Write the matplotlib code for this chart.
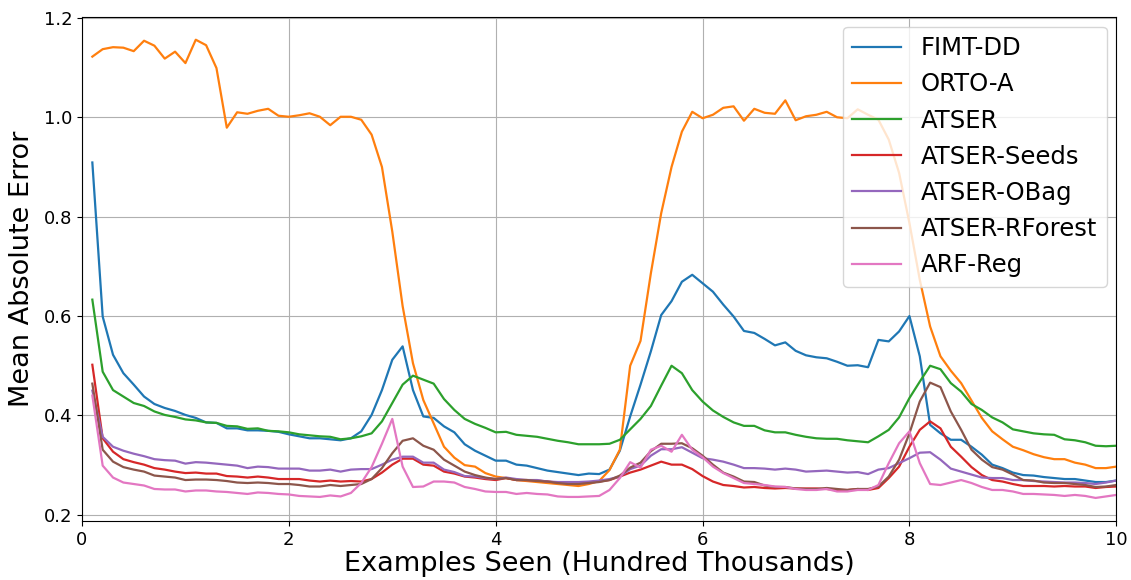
import numpy as np
import matplotlib.pyplot as plt

# x positions: every 10,000 examples, in hundred thousands
x = np.arange(1, 101) / 10.0

fimt_dd = [0.909, 0.599, 0.522, 0.485, 0.462, 0.438, 0.423, 0.415, 0.409, 0.401,
           0.395, 0.386, 0.385, 0.374, 0.374, 0.370, 0.370, 0.369, 0.367, 0.362,
           0.358, 0.354, 0.354, 0.352, 0.350, 0.354, 0.368, 0.401, 0.451, 0.512,
           0.539, 0.451, 0.398, 0.395, 0.378, 0.366, 0.342, 0.329, 0.319, 0.309,
           0.309, 0.301, 0.299, 0.294, 0.289, 0.286, 0.283, 0.280, 0.283, 0.282,
           0.291, 0.329, 0.398, 0.462, 0.529, 0.602, 0.630, 0.669, 0.683, 0.666,
           0.649, 0.623, 0.599, 0.570, 0.566, 0.554, 0.541, 0.547, 0.530, 0.521,
           0.517, 0.515, 0.508, 0.500, 0.501, 0.497, 0.552, 0.549, 0.569, 0.600,
           0.519, 0.381, 0.364, 0.351, 0.351, 0.337, 0.321, 0.301, 0.294, 0.285,
           0.280, 0.279, 0.276, 0.274, 0.272, 0.272, 0.269, 0.266, 0.266, 0.269]

orto_a = [1.122, 1.137, 1.141, 1.140, 1.133, 1.154, 1.144, 1.118, 1.132, 1.109,
          1.156, 1.145, 1.099, 0.979, 1.010, 1.007, 1.013, 1.017, 1.003, 1.001,
          1.004, 1.008, 1.001, 0.984, 1.001, 1.001, 0.995, 0.965, 0.900, 0.770,
          0.620, 0.505, 0.431, 0.384, 0.337, 0.315, 0.300, 0.297, 0.284, 0.277,
          0.274, 0.270, 0.268, 0.266, 0.264, 0.262, 0.260, 0.258, 0.262, 0.268,
          0.290, 0.331, 0.500, 0.550, 0.686, 0.807, 0.900, 0.971, 1.011, 0.998,
          1.005, 1.019, 1.022, 0.993, 1.017, 1.009, 1.007, 1.034, 0.994, 1.002,
          1.005, 1.011, 1.000, 0.998, 1.016, 1.005, 0.995, 0.955, 0.888, 0.787,
          0.673, 0.579, 0.519, 0.490, 0.465, 0.430, 0.395, 0.368, 0.352, 0.337,
          0.330, 0.322, 0.316, 0.312, 0.312, 0.305, 0.301, 0.294, 0.294, 0.297]

atser = [0.633, 0.488, 0.451, 0.438, 0.425, 0.419, 0.408, 0.401, 0.397, 0.392,
         0.390, 0.386, 0.385, 0.379, 0.378, 0.373, 0.374, 0.369, 0.368, 0.366,
         0.362, 0.360, 0.358, 0.357, 0.352, 0.354, 0.358, 0.364, 0.388, 0.425,
         0.462, 0.480, 0.472, 0.464, 0.433, 0.411, 0.393, 0.383, 0.375, 0.366,
         0.367, 0.361, 0.359, 0.357, 0.353, 0.349, 0.346, 0.342, 0.342, 0.342,
         0.343, 0.351, 0.372, 0.393, 0.419, 0.460, 0.500, 0.485, 0.451, 0.428,
         0.410, 0.397, 0.386, 0.379, 0.379, 0.370, 0.366, 0.366, 0.361, 0.357,
         0.354, 0.353, 0.353, 0.350, 0.348, 0.346, 0.358, 0.371, 0.396, 0.435,
         0.468, 0.500, 0.493, 0.465, 0.448, 0.423, 0.411, 0.396, 0.386, 0.372,
         0.368, 0.364, 0.362, 0.361, 0.352, 0.350, 0.346, 0.339, 0.338, 0.339]

atser_seeds = [0.502, 0.354, 0.327, 0.312, 0.306, 0.301, 0.294, 0.291, 0.287, 0.284,
               0.285, 0.283, 0.283, 0.278, 0.277, 0.275, 0.277, 0.275, 0.272, 0.272,
               0.272, 0.269, 0.267, 0.269, 0.267, 0.268, 0.267, 0.272, 0.285, 0.301,
               0.313, 0.313, 0.301, 0.299, 0.287, 0.283, 0.277, 0.275, 0.272, 0.270,
               0.274, 0.270, 0.270, 0.269, 0.267, 0.265, 0.264, 0.265, 0.265, 0.267,
               0.270, 0.277, 0.285, 0.291, 0.299, 0.307, 0.301, 0.301, 0.292, 0.278,
               0.267, 0.260, 0.258, 0.255, 0.256, 0.254, 0.253, 0.254, 0.253, 0.253,
               0.253, 0.252, 0.250, 0.250, 0.252, 0.250, 0.254, 0.274, 0.297, 0.337,
               0.371, 0.388, 0.374, 0.337, 0.317, 0.296, 0.280, 0.270, 0.267, 0.262,
               0.258, 0.258, 0.258, 0.257, 0.258, 0.257, 0.257, 0.254, 0.256, 0.257]

atser_obag = [0.450, 0.357, 0.337, 0.329, 0.323, 0.318, 0.312, 0.310, 0.309, 0.303,
              0.306, 0.305, 0.303, 0.301, 0.299, 0.294, 0.297, 0.296, 0.293, 0.293,
              0.293, 0.289, 0.289, 0.291, 0.287, 0.291, 0.292, 0.292, 0.301, 0.311,
              0.317, 0.317, 0.305, 0.305, 0.291, 0.286, 0.278, 0.277, 0.274, 0.272,
              0.275, 0.272, 0.270, 0.270, 0.267, 0.266, 0.266, 0.266, 0.267, 0.269,
              0.272, 0.277, 0.292, 0.299, 0.319, 0.332, 0.332, 0.336, 0.325, 0.314,
              0.311, 0.307, 0.301, 0.294, 0.294, 0.293, 0.291, 0.293, 0.291, 0.287,
              0.288, 0.289, 0.287, 0.285, 0.286, 0.282, 0.291, 0.294, 0.304, 0.314,
              0.325, 0.326, 0.311, 0.293, 0.287, 0.281, 0.275, 0.274, 0.274, 0.270,
              0.270, 0.268, 0.267, 0.266, 0.265, 0.265, 0.264, 0.262, 0.265, 0.269]

atser_rforest = [0.464, 0.331, 0.307, 0.296, 0.291, 0.287, 0.279, 0.277, 0.275, 0.270,
                 0.271, 0.271, 0.270, 0.268, 0.265, 0.264, 0.265, 0.264, 0.262, 0.262,
                 0.260, 0.257, 0.257, 0.260, 0.258, 0.260, 0.262, 0.272, 0.294, 0.324,
                 0.349, 0.354, 0.339, 0.331, 0.311, 0.299, 0.287, 0.280, 0.275, 0.272,
                 0.274, 0.270, 0.270, 0.268, 0.267, 0.264, 0.262, 0.262, 0.264, 0.266,
                 0.270, 0.279, 0.295, 0.305, 0.328, 0.343, 0.343, 0.344, 0.334, 0.319,
                 0.301, 0.285, 0.277, 0.267, 0.266, 0.259, 0.256, 0.256, 0.253, 0.252,
                 0.252, 0.254, 0.252, 0.250, 0.252, 0.252, 0.257, 0.277, 0.311, 0.364,
                 0.428, 0.466, 0.457, 0.408, 0.371, 0.331, 0.311, 0.296, 0.291, 0.281,
                 0.270, 0.269, 0.265, 0.264, 0.264, 0.262, 0.260, 0.256, 0.257, 0.260]

arf_reg = [0.440, 0.299, 0.275, 0.265, 0.262, 0.259, 0.252, 0.251, 0.251, 0.247,
           0.249, 0.249, 0.247, 0.246, 0.244, 0.242, 0.245, 0.244, 0.242, 0.241,
           0.238, 0.237, 0.236, 0.239, 0.237, 0.244, 0.264, 0.296, 0.343, 0.393,
           0.297, 0.256, 0.257, 0.267, 0.267, 0.265, 0.256, 0.252, 0.247, 0.246,
           0.246, 0.242, 0.244, 0.242, 0.241, 0.237, 0.236, 0.236, 0.237, 0.238,
           0.250, 0.274, 0.306, 0.295, 0.331, 0.339, 0.327, 0.361, 0.331, 0.316,
           0.297, 0.284, 0.274, 0.264, 0.262, 0.260, 0.257, 0.256, 0.252, 0.250,
           0.250, 0.252, 0.247, 0.247, 0.250, 0.250, 0.260, 0.304, 0.344, 0.368,
           0.304, 0.262, 0.260, 0.265, 0.270, 0.264, 0.256, 0.250, 0.250, 0.247,
           0.242, 0.242, 0.241, 0.240, 0.238, 0.240, 0.238, 0.234, 0.237, 0.240]

series = [fimt_dd, orto_a, atser, atser_seeds, atser_obag, atser_rforest, arf_reg]
labels = ["FIMT-DD", "ORTO-A", "ATSER", "ATSER-Seeds", "ATSER-OBag",
          "ATSER-RForest", "ARF-Reg"]

fig = plt.figure(figsize=(11.31, 5.8), dpi=100)
ax = fig.add_axes([0.0725, 0.102, 0.9145, 0.869])

for vals, lab in zip(series, labels):
    ax.plot(x, vals, label=lab, linewidth=1.6)

ax.set_xlim(0, 10)
ax.grid(True)
ax.tick_params(labelsize=13)
ax.set_xlabel("Examples Seen (Hundred Thousands)", fontsize=19.5, labelpad=2)
ax.set_ylabel("Mean Absolute Error", fontsize=19.5, labelpad=6)
ax.legend(loc="upper right", fontsize=17.5, borderaxespad=0.4)

fig.savefig("out.png", dpi=100)
